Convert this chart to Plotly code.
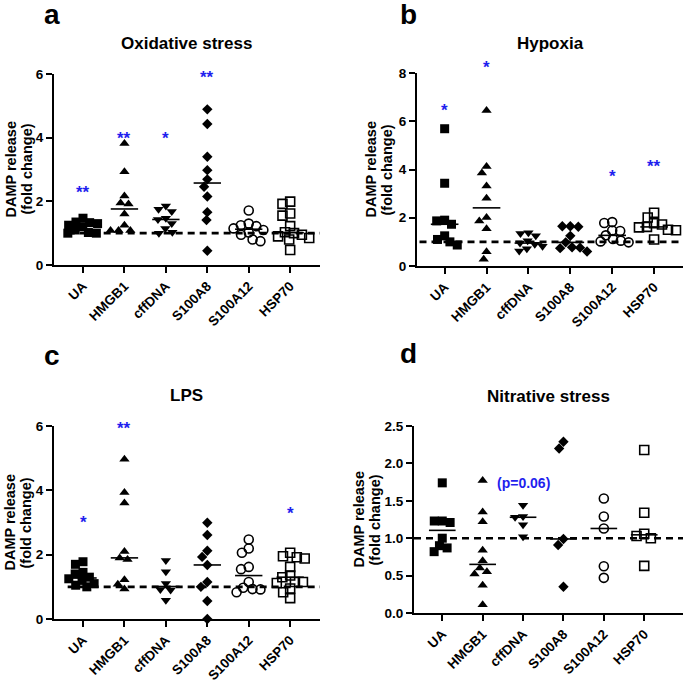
import numpy as np
import plotly.graph_objects as go

W, H = 685, 684
FONT = "Liberation Sans"
BLUE = "#1f1fee"

categories = ["UA", "HMGB1", "cffDNA", "S100A8", "S100A12", "HSP70"]

# ---- Panel a: Oxidative stress ----
ox_UA = [1.47, 1.35, 1.33, 1.3, 1.25, 1.2, 1.1, 1.02, 1.0, 1.0]
ox_HMGB1 = [3.82, 2.93, 2.17, 1.95, 1.92, 1.6, 1.25, 1.08, 1.08, 1.08]
ox_cffDNA = [1.85, 1.75, 1.68, 1.47, 1.43, 1.3, 1.15, 1.03, 1.0]
ox_S100A8 = [4.89, 4.43, 3.40, 2.98, 2.69, 2.46, 2.15, 1.66, 1.41, 0.45]
ox_S100A12 = [1.71, 1.3, 1.25, 1.22, 1.15, 1.1, 1.02, 0.95, 0.8, 0.75]
ox_HSP70 = [1.99, 1.92, 1.62, 1.55, 1.22, 1.03, 1.0, 0.95, 0.9, 0.85, 0.8, 0.47]
ox_stars = ["**", "**", "*", "**", "", ""]
ox_star_y = [2.36, 4.08, 4.08, 5.97, None, None]

# ---- Panel b: Hypoxia ----
hy_UA = [5.69, 3.43, 1.9, 1.87, 1.73, 1.25, 1.1, 1.0, 0.87]
hy_HMGB1 = [6.45, 4.12, 3.85, 3.32, 2.81, 2.01, 1.87, 1.54, 0.59, 0.28]
hy_cffDNA = [1.38, 1.35, 1.25, 1.05, 0.95, 0.9, 0.82, 0.72, 0.62]
hy_S100A8 = [1.65, 1.65, 1.63, 1.25, 0.98, 0.78, 0.76, 0.74, 0.6]
hy_S100A12 = [1.82, 1.78, 1.47, 1.45, 1.27, 1.12, 1.05, 1.02, 0.98]
hy_HSP70 = [2.21, 2.01, 1.77, 1.72, 1.62, 1.6, 1.5, 1.48, 1.1]
hy_stars = ["*", "*", "", "", "*", "**"]
hy_star_y = [6.55, 8.35, None, None, 3.82, 4.26]

# ---- Panel c: LPS ----
lps_UA = [1.78, 1.7, 1.45, 1.4, 1.3, 1.25, 1.2, 1.1, 1.05, 1.0]
lps_HMGB1 = [4.97, 3.93, 3.61, 2.1, 1.9, 1.85, 1.22, 1.08, 0.93]
lps_cffDNA = [1.82, 1.47, 1.1, 0.92, 0.9, 0.58]
lps_S100A8 = [2.99, 2.61, 2.12, 1.93, 1.68, 1.15, 1.0, 0.56, 0.0]
lps_S100A12 = [2.47, 2.19, 2.06, 1.62, 1.55, 1.15, 0.97, 0.93, 0.92, 0.83]
lps_HSP70 = [2.06, 1.95, 1.92, 1.88, 1.62, 1.35, 1.3, 1.15, 1.15, 1.12, 0.95, 0.83, 0.65]
lps_stars = ["*", "**", "", "", "", "*"]
lps_star_y = [3.1, 6.03, None, None, None, 3.36]

# ---- Panel d: Nitrative stress ----
ni_UA = [1.74, 1.23, 1.23, 1.21, 1.0, 0.9, 0.87, 0.82]
ni_HMGB1 = [1.77, 1.35, 1.22, 0.84, 0.7, 0.6, 0.55, 0.52, 0.37, 0.11]
ni_cffDNA = [1.44, 1.29, 1.28, 1.18, 1.02]
ni_S100A8 = [2.29, 2.20, 0.99, 0.91, 0.35]
ni_S100A12 = [1.53, 1.29, 1.13, 0.625, 0.47]
ni_HSP70 = [2.18, 1.34, 1.06, 1.03, 1.0, 0.63]
ni_stars = ["", "", "(p=0.06)", "", "", ""]
ni_star_y = [None, None, 1.74, None, None, None]

ytitle_lines = ["DAMP release", "(fold change)"]

symbols = ["square", "triangle-up", "triangle-down", "diamond", "circle-open", "square-open"]
msizes = [9, 9, 9, 8, 9, 9]

panels = [
    dict(letter="a", title="Oxidative stress",
         groups=[ox_UA, ox_HMGB1, ox_cffDNA, ox_S100A8, ox_S100A12, ox_HSP70],
         stars=ox_stars, star_y=ox_star_y,
         xpx=(54, 320), ypx=(74, 265), xrange=(-0.7, 5.72), yrange=(0, 6),
         yticks=[0, 2, 4, 6], fmt="d", dash0=-0.37,
         letter_pos=(52, 15), title_y=43, ytitle_x=(11, 27)),
    dict(letter="b", title="Hypoxia",
         groups=[hy_UA, hy_HMGB1, hy_cffDNA, hy_S100A8, hy_S100A12, hy_HSP70],
         stars=hy_stars, star_y=hy_star_y,
         xpx=(417, 683), ypx=(73, 266), xrange=(-0.66, 5.69), yrange=(0, 8),
         yticks=[0, 2, 4, 6, 8], fmt="d", dash0=-0.6,
         letter_pos=(408, 14), title_y=43, ytitle_x=(371, 387)),
    dict(letter="c", title="LPS",
         groups=[lps_UA, lps_HMGB1, lps_cffDNA, lps_S100A8, lps_S100A12, lps_HSP70],
         stars=lps_stars, star_y=lps_star_y,
         xpx=(54, 320), ypx=(426, 619), xrange=(-0.7, 5.72), yrange=(0, 6),
         yticks=[0, 2, 4, 6], fmt="d", dash0=-0.37,
         letter_pos=(52, 355), title_y=395, ytitle_x=(9, 25)),
    dict(letter="d", title="Nitrative stress",
         groups=[ni_UA, ni_HMGB1, ni_cffDNA, ni_S100A8, ni_S100A12, ni_HSP70],
         stars=ni_stars, star_y=ni_star_y,
         xpx=(414, 683), ypx=(426, 613), xrange=(-0.7, 5.96), yrange=(0, 2.5),
         yticks=[0, 0.5, 1.0, 1.5, 2.0, 2.5], fmt=".1f", dash0=-0.7,
         letter_pos=(408, 353), title_y=397, ytitle_x=(358, 374)),
]


def px2x(px):
    return px / W


def px2y(py):
    return 1 - py / H


def swarm_offsets(vals, px_per_y, diam):
    """Simple beeswarm: place points (pixel space) so they do not overlap."""
    vals = np.asarray(vals, dtype=float)
    order = np.argsort(-vals)
    placed = []
    offs = np.zeros(len(vals))
    for i in order:
        y = vals[i] * px_per_y
        cands = [0.0]
        for (px, py) in placed:
            dy = abs(py - y)
            if dy < diam:
                dx = np.sqrt(diam ** 2 - dy ** 2)
                cands += [px + dx, px - dx]
        cands = sorted(cands, key=lambda c: (abs(c), c))
        for c in cands:
            ok = all((c - px) ** 2 + (y - py) ** 2 >= diam ** 2 - 1e-6 for (px, py) in placed)
            if ok:
                offs[i] = c
                placed.append((c, y))
                break
    return offs


fig = go.Figure()
annotations = []
xtickfont = dict(family=FONT, size=13.5, color="black", weight="bold")
ytickfont = dict(family=FONT, size=13.5, color="black", weight="bold")

for k, p in enumerate(panels):
    ax = "" if k == 0 else str(k + 1)
    xref, yref = "x" + ax, "y" + ax
    x0, x1 = p["xpx"]
    y0, y1 = p["ypx"]
    r0, r1 = p["yrange"]
    px_per_x = (x1 - x0) / (p["xrange"][1] - p["xrange"][0])
    px_per_y = (y1 - y0) / (r1 - r0)
    ydom = [px2y(y1), px2y(y0)]

    for i, vals in enumerate(p["groups"]):
        offs = swarm_offsets(vals, px_per_y, 8.0) / px_per_x
        open_sym = symbols[i].endswith("open")
        fig.add_trace(go.Scatter(
            x=i + offs, y=vals, mode="markers", xaxis=xref, yaxis=yref,
            cliponaxis=False, showlegend=False, hoverinfo="skip",
            marker=dict(symbol=symbols[i], size=msizes[i], color="black",
                        line=dict(color="black", width=1.6 if open_sym else 0)),
        ))
        med = float(np.median(vals))
        fig.add_trace(go.Scatter(
            x=[i - 0.33, i + 0.33], y=[med, med], mode="lines",
            xaxis=xref, yaxis=yref, showlegend=False, hoverinfo="skip",
            line=dict(color="black", width=1.6),
        ))
        if p["stars"][i]:
            is_star = p["stars"][i].startswith("*")
            yv = p["star_y"][i]
            annotations.append(dict(
                x=i, y=ydom[0] + (yv - r0) / (r1 - r0) * (ydom[1] - ydom[0]),
                xref=xref, yref="paper", xanchor="center", yanchor="middle",
                text=p["stars"][i], showarrow=False,
                yshift=-3 if is_star else 0,
                font=dict(family=FONT, size=17 if is_star else 14,
                          color=BLUE, weight="bold"),
            ))

    fig.add_trace(go.Scatter(
        x=[p["dash0"], p["xrange"][1]], y=[1, 1], mode="lines",
        xaxis=xref, yaxis=yref, showlegend=False, hoverinfo="skip",
        line=dict(color="black", width=2.6, dash="7px,5px"),
    ))

    fig.layout["xaxis" + ax] = dict(
        domain=[px2x(x0), px2x(x1)], anchor=yref, range=list(p["xrange"]),
        tickvals=list(range(len(categories))), ticktext=categories,
        tickangle=-45, showline=True, linecolor="black", linewidth=2,
        ticks="outside", ticklen=6, tickwidth=2, tickcolor="black",
        showgrid=False, zeroline=False, tickfont=xtickfont, automargin=False,
    )
    fig.layout["yaxis" + ax] = dict(
        domain=ydom, anchor=xref, range=[r0, r1],
        tickvals=p["yticks"], tickformat=p["fmt"],
        showline=True, linecolor="black", linewidth=2,
        ticks="outside", ticklen=6, tickwidth=2, tickcolor="black",
        showgrid=False, zeroline=False, tickfont=ytickfont, automargin=False,
    )

    annotations.append(dict(
        x=px2x(p["letter_pos"][0]), y=px2y(p["letter_pos"][1]), xref="paper", yref="paper",
        text=p["letter"], showarrow=False, xanchor="center", yanchor="middle",
        font=dict(family=FONT, size=28, color="black", weight="bold"),
    ))
    annotations.append(dict(
        x=px2x((x0 + x1) / 2), y=px2y(p["title_y"]), xref="paper", yref="paper",
        text=p["title"], showarrow=False, xanchor="center", yanchor="middle",
        font=dict(family=FONT, size=17, color="black", weight="bold"),
    ))
    for line_txt, lx in zip(ytitle_lines, p["ytitle_x"]):
        annotations.append(dict(
            x=px2x(lx), y=px2y((y0 + y1) / 2), xref="paper", yref="paper",
            text=line_txt, showarrow=False, textangle=-90,
            xanchor="center", yanchor="middle",
            font=dict(family=FONT, size=14.5, color="black", weight="bold"),
        ))

fig.update_layout(
    width=W, height=H, margin=dict(l=0, r=0, t=0, b=0),
    paper_bgcolor="white", plot_bgcolor="white",
    annotations=annotations, showlegend=False, hovermode=False,
)

fig.write_html("out.html", config={"displayModeBar": False},
               post_script="document.body.style.margin='0';document.body.style.overflow='hidden';")
